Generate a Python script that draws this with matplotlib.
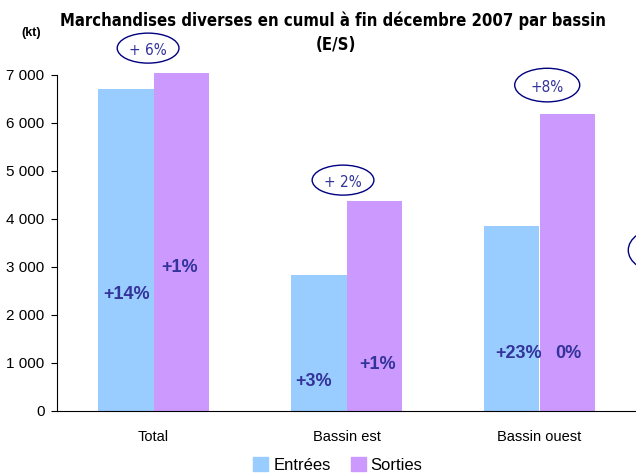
import matplotlib
matplotlib.use("Agg")
import matplotlib.pyplot as plt
from matplotlib.patches import Ellipse, Patch
import numpy as np

plt.rcParams["font.family"] = ["Liberation Sans", "DejaVu Sans"]

# data
categories = ["Total", "Bassin est", "Bassin ouest"]
entrees = [6710, 2830, 3855]
sorties = [7040, 4375, 6190]
entrees_var = ["+14%", "+3%", "+23%"]
sorties_var = ["+1%", "+1%", "0%"]
total_var = ["+ 6%", "+ 2%", "+8%", ""]

# label placement (data coords)
entrees_lbl_pos = [(-0.142, 2420), (0.83, 625), (1.89, 1190)]
sorties_lbl_pos = [(0.137, 2980), (1.163, 960), (2.15, 1190)]
ellipse_pos = [(-0.028, 7560), (0.982, 4810), (2.04, 6790), (2.62, 3350)]
ellipse_size = [(0.32, 625), (0.32, 625), (0.337, 700), (0.32, 900)]

C_ENT = "#99CCFF"
C_SOR = "#CC99FF"
C_TXT = "#333399"
C_ELL = "#000080"

fig = plt.figure(figsize=(6.36, 4.75), dpi=100)
ax = fig.add_axes([57 / 636, 64 / 475, 1 - 57 / 636, 336 / 475])

x = np.arange(len(categories))
w = 0.285
ax.bar(x - w / 2, entrees, w, color=C_ENT, label="Entrées", clip_on=False)
ax.bar(x + w / 2, sorties, w, color=C_SOR, label="Sorties", clip_on=False)

for (px, py), t in zip(entrees_lbl_pos, entrees_var):
    ax.text(px, py, t, ha="center", va="center", fontsize=13, fontweight="bold", color=C_TXT)
for (px, py), t in zip(sorties_lbl_pos, sorties_var):
    ax.text(px, py, t, ha="center", va="center", fontsize=13, fontweight="bold", color=C_TXT)

for (px, py), (ew, eh), t in zip(ellipse_pos, ellipse_size, total_var):
    ax.add_patch(Ellipse((px, py), ew, eh, facecolor="none", edgecolor=C_ELL,
                         linewidth=1.0, clip_on=False))
    if t:
        ax.text(px, py - 40, t, ha="center", va="center", fontsize=11, color=C_TXT,
                clip_on=False, family=["DejaVu Sans"], fontstretch="condensed")

ax.set_xlim(-0.5, 2.5)
ax.set_ylim(0, 7000)
ax.set_yticks(range(0, 7001, 1000))
ax.set_yticklabels(["{:,}".format(v).replace(",", " ") for v in range(0, 7001, 1000)], fontsize=11)
ax.set_xticks(x)
ax.set_xticklabels(categories, fontsize=10.5)
ax.tick_params(axis="x", length=0, pad=14)
ax.tick_params(axis="y", length=4, direction="out", pad=5)
ax.spines["top"].set_visible(False)
ax.spines["right"].set_visible(False)

title_font = dict(fontsize=12, fontweight="bold", family=["DejaVu Sans"], fontstretch="condensed")
fig.text(333 / 636, 1 - 21 / 475, "Marchandises diverses en cumul à fin décembre 2007 par bassin",
         ha="center", va="center", **title_font)
fig.text(336 / 636, 1 - 45 / 475, "(E/S)", ha="center", va="center", **title_font)
fig.text(31 / 636, 1 - 33 / 475, "(kt)", ha="center", va="center", fontsize=9, fontweight="bold")

handles = [Patch(color=C_ENT, label="Entrées"), Patch(color=C_SOR, label="Sorties")]
fig.legend(handles=handles, loc="center", bbox_to_anchor=(338 / 636, 1 - 465 / 475), ncol=2,
           frameon=False, fontsize=12, handlelength=0.9, handleheight=0.9,
           handletextpad=0.3, columnspacing=1.2)

fig.savefig("out.png", dpi=100)
